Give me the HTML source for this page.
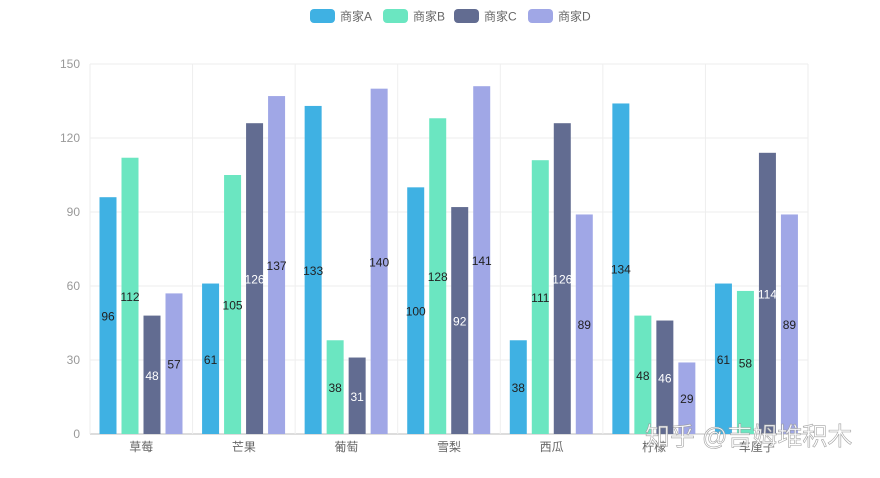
<!DOCTYPE html>
<html><head><meta charset="utf-8"><style>
body{margin:0;background:#fff;width:880px;height:473px;overflow:hidden;font-family:"Liberation Sans","Noto Sans CJK SC",sans-serif}
svg text{font-family:"Liberation Sans","Noto Sans CJK SC",sans-serif}
</style></head><body>
<svg id="c" width="880" height="473"></svg>
<script>
const categories=["草莓","芒果","葡萄","雪梨","西瓜","柠檬","车厘子"];
const seriesNames=["商家A","商家B","商家C","商家D"];
const seriesA=[96,61,133,100,38,134,61];
const seriesB=[112,105,38,128,111,48,58];
const seriesC=[48,126,31,92,126,46,114];
const seriesD=[57,137,140,141,89,29,89];
const yTicks=[0,30,60,90,120,150];
const colors=["#3fb1e3","#6be6c1","#626c91","#a0a7e6"];
const labelColors=["#222","#222","#fff","#222"];
const series=[seriesA,seriesB,seriesC,seriesD];
const L=90,R=808,T=64,B=434,yMax=150;
const svg=document.getElementById('c');
const NS='http://www.w3.org/2000/svg';
function mk(t,a,txt){const e=document.createElementNS(NS,t);for(const k in a)e.setAttribute(k,a[k]);if(txt!==undefined)e.textContent=txt;svg.appendChild(e);return e;}
const y=v=>B-(v/yMax)*(B-T);
const cw=(R-L)/categories.length;
const x=i=>L+i*cw;
yTicks.forEach(t=>{
  const g=mk('line',{x1:L,x2:R,y1:y(t),y2:y(t),stroke:t===0?'#bbb':'#eee'});
  
  
  const tx=mk('text',{x:L-10,y:y(t)+4,'text-anchor':'end','font-size':12,fill:'#999'},t);
  
  
});
for(let i=0;i<=categories.length;i++){
  const g=mk('line',{x1:x(i),x2:x(i),y1:T,y2:B,stroke:'#eee'});
  
  
}
categories.forEach((c,i)=>{
  const t=mk('text',{x:x(i)+cw/2,y:B+17,'text-anchor':'middle','font-size':12,fill:'#666'},c);
  
  
  series.forEach((s,j)=>{
    const bx=x(i)+9.5+j*22, bw=17;
    const r=mk('rect',{x:bx,y:y(s[i]),width:bw,height:B-y(s[i]),fill:colors[j]});
    
    
    const lb=mk('text',{x:bx+bw/2,y:(y(s[i])+B)/2+5,'text-anchor':'middle','font-size':12,fill:labelColors[j]},s[i]);
    
    
  });
});
const lx=[310,383,454,528];
seriesNames.forEach((n,j)=>{
  const r=mk('rect',{x:lx[j],y:9,width:25,height:14,rx:4,fill:colors[j]});
  
  
  const t=mk('text',{x:lx[j]+30,y:20.5,'font-size':12,fill:'#666'},n);
  
  
});
const w=mk('text',{x:645,y:445,'font-size':25,fill:'#fff',stroke:'#999','stroke-width':0.6,opacity:0.9},'知乎 @吉姆堆积木');


</script>
</body></html>
